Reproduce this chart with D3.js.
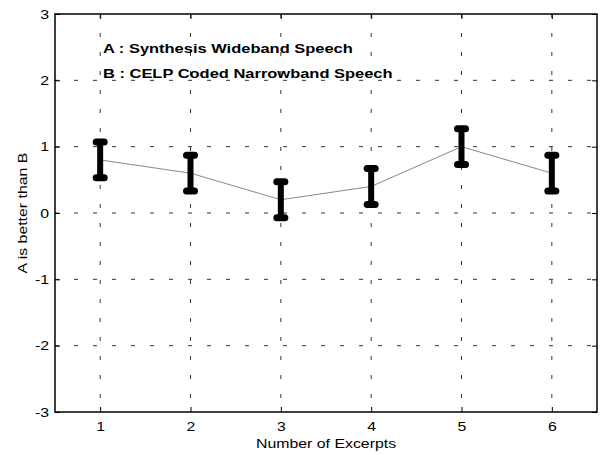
<!DOCTYPE html>
<meta charset="utf-8">
<script src="https://d3js.org/d3.v7.min.js"></script>
<style>
  body { margin: 0; background: white; }
  text { font-family: "Liberation Sans", Arial, sans-serif; }
</style>
<div id="chart"></div>
<script>

// data
var excerpts = [1, 2, 3, 4, 5, 6];
var means = [0.8, 0.6, 0.2, 0.4, 1.0, 0.6];
var lower = [0.53, 0.33, -0.07, 0.13, 0.73, 0.33];
var upper = [1.07, 0.87, 0.47, 0.67, 1.27, 0.87];
var yTicks = [-3, -2, -1, 0, 1, 2, 3];
var legendLines = ["A : Synthesis Wideband Speech", "B : CELP Coded Narrowband Speech"];

var margin = {top: 14, right: 3, bottom: 43, left: 55},
    width = 600 - margin.left - margin.right,
    height = 455 - margin.top - margin.bottom;

// the original font is wider than Liberation Sans, stretch it a bit
var stretch = 1.22;

var svg = d3.select("#chart")
  .append("svg")
    .attr("width", 600)
    .attr("height", 455)
  .append("g")
    .attr("transform", "translate(" + margin.left + "," + margin.top + ")");

var x = d3.scaleLinear()
  .domain([0.5, 6.5])
  .range([0, width]);

var y = d3.scaleLinear()
  .domain([-3, 3])
  .range([height, 0]);

// dashed grid
svg.append("g")
  .selectAll("line")
  .data(excerpts)
  .enter().append("line")
    .attr("x1", function(d) { return x(d); })
    .attr("x2", function(d) { return x(d); })
    .attr("y1", 0)
    .attr("y2", height)
    .attr("stroke", "#333")
    .attr("stroke-width", 1)
    .attr("stroke-dasharray", "4,15");

svg.append("g")
  .selectAll("line")
  .data(yTicks.slice(1, -1))
  .enter().append("line")
    .attr("x1", 0)
    .attr("x2", width)
    .attr("y1", function(d) { return y(d); })
    .attr("y2", function(d) { return y(d); })
    .attr("stroke", "#333")
    .attr("stroke-width", 1)
    .attr("stroke-dasharray", "4,15");

// axes (ticks pointing inwards, box all round)
var xAxis = svg.append("g")
  .attr("transform", "translate(0," + height + ")")
  .call(d3.axisBottom(x).tickValues(excerpts).tickSizeInner(-5).tickSizeOuter(0).tickPadding(10).tickFormat(function(d) { return String(d); }))
  .call(function(g) { g.select(".domain").remove(); })
  .style("font-size", "13px");
xAxis.selectAll(".tick text").attr("transform", "scale(" + stretch + ",1)");

var yAxis = svg.append("g")
  .call(d3.axisLeft(y).tickValues(yTicks).tickSizeInner(-5).tickSizeOuter(0).tickFormat(function(d) { return String(d); }))
  .call(function(g) { g.select(".domain").remove(); })
  .style("font-size", "13px");
yAxis.selectAll(".tick text")
  .attr("x", 0)
  .attr("transform", "translate(-6,0) scale(" + stretch + ",1)");

svg.append("g")
  .call(d3.axisTop(x).tickValues(excerpts).tickSizeInner(-5).tickSizeOuter(0).tickFormat(""))
  .call(function(g) { g.select(".domain").remove(); });

svg.append("g")
  .attr("transform", "translate(" + width + ",0)")
  .call(d3.axisRight(y).tickValues(yTicks).tickSizeInner(-5).tickSizeOuter(0).tickFormat(""))
  .call(function(g) { g.select(".domain").remove(); });

svg.selectAll(".tick line").attr("stroke", "black");
svg.selectAll(".tick text").attr("fill", "black");

svg.append("rect")
  .attr("x", 0)
  .attr("y", 0)
  .attr("width", width)
  .attr("height", height)
  .attr("fill", "none")
  .attr("stroke", "black")
  .attr("stroke-width", 1.5);

// line through the means
var line = d3.line()
  .x(function(d, i) { return x(excerpts[i]); })
  .y(function(d) { return y(d); });

svg.append("path")
  .datum(means)
  .attr("d", line)
  .attr("fill", "none")
  .attr("stroke", "#888")
  .attr("stroke-width", 1);

// error bars
svg.selectAll("errbar")
  .data(excerpts)
  .enter()
  .append("line")
    .attr("x1", function(d) { return x(d); })
    .attr("x2", function(d) { return x(d); })
    .attr("y1", function(d, i) { return y(lower[i]); })
    .attr("y2", function(d, i) { return y(upper[i]); })
    .attr("stroke", "black")
    .attr("stroke-width", 6);

var caps = [];
excerpts.forEach(function(d, i) {
  caps.push({x: d, v: lower[i]});
  caps.push({x: d, v: upper[i]});
});

svg.selectAll("errcap")
  .data(caps)
  .enter()
  .append("line")
    .attr("x1", function(d) { return x(d.x) - 4; })
    .attr("x2", function(d) { return x(d.x) + 4; })
    .attr("y1", function(d) { return y(d.v); })
    .attr("y2", function(d) { return y(d.v); })
    .attr("stroke", "black")
    .attr("stroke-width", 7)
    .attr("stroke-linecap", "round");

// legend text
svg.append("g")
  .selectAll("text")
  .data(legendLines)
  .enter().append("text")
    .attr("transform", function(d, i) { return "translate(48," + (39 + i * 24.5) + ") scale(" + stretch + ",1)"; })
    .style("font-size", "13.5px")
    .style("font-weight", "bold")
    .attr("fill", "black")
    .text(function(d) { return d; });

// axis labels
svg.append("text")
  .attr("transform", "translate(" + (width / 2) + "," + (height + 36) + ") scale(" + stretch + ",1)")
  .attr("text-anchor", "middle")
  .style("font-size", "13px")
  .text("Number of Excerpts");

svg.append("text")
  .attr("transform", "translate(" + (27 - margin.left) + "," + (height / 2) + ") rotate(-90) scale(" + stretch + ",1)")
  .attr("text-anchor", "middle")
  .style("font-size", "13px")
  .text("A is better than B");

</script>
